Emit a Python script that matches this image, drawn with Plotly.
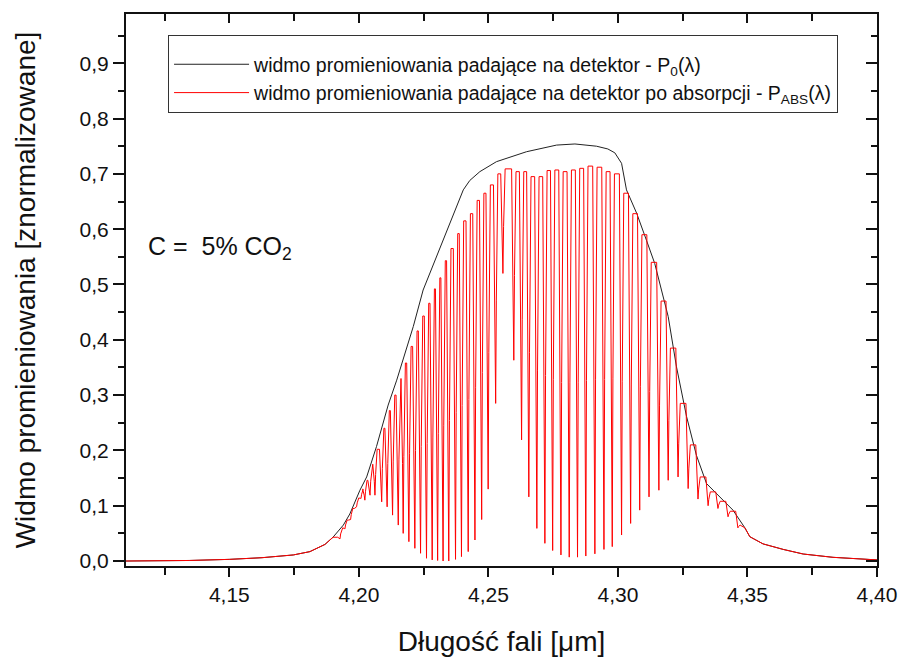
import plotly.graph_objects as go

# ---------------- data ----------------
# Incident spectrum P0(lambda) - black envelope
env_x = [4.1101, 4.1346, 4.1500, 4.1626, 4.1747, 4.1811, 4.1869, 4.1900, 4.1940,
         4.1965, 4.2004, 4.2030, 4.2068, 4.2113, 4.2146, 4.2210, 4.2248, 4.2300,
         4.2351, 4.2403, 4.2428, 4.2467, 4.2531, 4.2647, 4.2763, 4.2834, 4.2917,
         4.2961, 4.2988, 4.3014, 4.3033, 4.3072, 4.3110, 4.3142, 4.3194, 4.3226,
         4.3265, 4.3303, 4.3342, 4.3393, 4.3444, 4.3490, 4.3509, 4.3560, 4.3638,
         4.3715, 4.3830, 4.4000]
env_y = [0.000, 0.001, 0.003, 0.006, 0.011, 0.017, 0.030, 0.043, 0.065,
         0.085, 0.128, 0.152, 0.207, 0.282, 0.327, 0.424, 0.490, 0.550,
         0.611, 0.671, 0.688, 0.704, 0.722, 0.740, 0.752, 0.754, 0.750,
         0.745, 0.738, 0.719, 0.671, 0.629, 0.580, 0.538, 0.442, 0.351,
         0.261, 0.191, 0.140, 0.116, 0.092, 0.060, 0.044, 0.031, 0.021,
         0.0127, 0.0067, 0.002]

# CO2 absorption lines: centre, minimum of the transmitted spectrum
line_x = [4.1927, 4.1946, 4.1968, 4.1991, 4.2008, 4.2023, 4.2043, 4.2062,
          4.2088, 4.2109, 4.2130, 4.2152, 4.2171, 4.2193, 4.2216, 4.2238,
          4.2261, 4.2283, 4.2304, 4.2325, 4.2347, 4.2373, 4.2396, 4.2422,
          4.2448, 4.2474, 4.2499, 4.2528, 4.2556, 4.2598, 4.2628, 4.2656,
          4.2687, 4.2718, 4.2748, 4.2780, 4.2812, 4.2844, 4.2876, 4.2911,
          4.2946, 4.2978, 4.3014, 4.3049, 4.3084, 4.3120, 4.3158, 4.3194,
          4.3232, 4.3271, 4.3309, 4.3348, 4.3386, 4.3425, 4.3463]
line_min = [0.040, 0.058, 0.075, 0.098, 0.113, 0.110, 0.119, 0.119,
            0.107, 0.098, 0.083, 0.065, 0.050, 0.035, 0.023, 0.014,
            0.005, 0.002, 0.001, 0.000, 0.000, 0.003, 0.008, 0.017,
            0.038, 0.075, 0.130, 0.285, 0.520, 0.363, 0.219, 0.116,
            0.059, 0.032, 0.019, 0.011, 0.007, 0.007, 0.009, 0.013,
            0.021, 0.026, 0.047, 0.068, 0.092, 0.116, 0.128, 0.146,
            0.152, 0.131, 0.112, 0.100, 0.095, 0.080, 0.060]
# level of the transmitted spectrum between neighbouring lines (len = lines + 1)
gap_top = [0.043, 0.060, 0.074, 0.095, 0.114, 0.130, 0.146, 0.175, 0.202,
           0.240, 0.272, 0.300, 0.330, 0.358, 0.388, 0.416, 0.443, 0.466,
           0.492, 0.512, 0.543, 0.565, 0.592, 0.615, 0.628, 0.652, 0.665,
           0.680, 0.700, 0.709, 0.704, 0.704, 0.695, 0.695, 0.706, 0.707,
           0.704, 0.707, 0.710, 0.714, 0.712, 0.704, 0.700, 0.665, 0.628,
           0.590, 0.540, 0.470, 0.385, 0.285, 0.210, 0.152, 0.125, 0.108,
           0.090, 0.065]

x_ticks = [4.15, 4.20, 4.25, 4.30, 4.35, 4.40]
x_minor = [4.125, 4.175, 4.225, 4.275, 4.325, 4.375]
y_ticks = [0.0, 0.1, 0.2, 0.3, 0.4, 0.5, 0.6, 0.7, 0.8, 0.9]
y_minor = [0.05, 0.15, 0.25, 0.35, 0.45, 0.55, 0.65, 0.75, 0.85, 0.95]

# ---------------- build transmitted spectrum from the read values ----------------
HW = 0.00085  # half width of a line profile (style)
red_x, red_y = [], []
for xv, yv in zip(env_x, env_y):
    if xv < line_x[0] - HW:
        red_x.append(xv); red_y.append(yv)
for i, (lx, lm) in enumerate(zip(line_x, line_min)):
    lt, rt = gap_top[i], gap_top[i + 1]
    red_x += [lx - HW, lx - 0.3 * HW, lx, lx + 0.3 * HW, lx + HW]
    red_y += [lt, lm + 0.45 * (lt - lm), lm, lm + 0.45 * (rt - lm), rt]
for xv, yv in zip(env_x, env_y):
    if xv > line_x[-1] + HW:
        red_x.append(xv); red_y.append(yv)

FONT = "Liberation Sans, Arial, sans-serif"

fig = go.Figure()
fig.add_trace(go.Scatter(
    x=env_x, y=env_y, mode="lines", line=dict(color="#222222", width=1),
    name="widmo promieniowania padające na detektor - P<sub>0</sub>(λ)"))
fig.add_trace(go.Scatter(
    x=red_x, y=red_y, mode="lines", line=dict(color="#ff0000", width=1),
    name="widmo promieniowania padające na detektor po absorpcji - P<sub>ABS</sub>(λ)"))
# empty helper trace so that the inward ticks on top/right are drawn
fig.add_trace(go.Scatter(x=[], y=[], xaxis="x2", yaxis="y2", showlegend=False,
                         hoverinfo="skip"))

XR = [4.1101, 4.40]
YR = [-0.009, 0.989]

fig.update_layout(
    width=900, height=657,
    margin=dict(l=126, r=23, t=14, b=91),
    paper_bgcolor="white", plot_bgcolor="white",
    separators=", ",
    font=dict(family=FONT, color="#111111"),
    showlegend=True,
    legend=dict(x=0.056, y=0.962, xanchor="left", yanchor="top",
                bordercolor="#333333", borderwidth=1, bgcolor="white",
                itemwidth=75,
                title=dict(text="\u00a0", font=dict(size=7)),
                font=dict(size=19.5, family=FONT, color="#111111")),
    xaxis=dict(range=XR, tickvals=x_ticks, tickformat=".2f", automargin=False,
               ticks="outside", ticklen=9, tickwidth=2, tickcolor="#111",
               showline=True, linewidth=2, linecolor="#111", mirror=True,
               showgrid=False, zeroline=False,
               tickfont=dict(size=21, family=FONT),
               minor=dict(tickvals=x_minor,
                          ticks="outside", ticklen=7, tickwidth=2, tickcolor="#111"),
               title=dict(text="Długość fali [μm]", font=dict(size=28, family=FONT),
                          standoff=26)),
    yaxis=dict(range=YR, tickvals=y_ticks, tickformat=".1f", automargin=False,
               ticks="outside", ticklen=11, tickwidth=2, tickcolor="#111",
               showline=True, linewidth=2, linecolor="#111", mirror=True,
               showgrid=False, zeroline=False,
               tickfont=dict(size=21, family=FONT),
               minor=dict(tickvals=y_minor,
                          ticks="outside", ticklen=6, tickwidth=2, tickcolor="#111"),
               title=dict(text="Widmo promieniowania [znormalizowane]",
                          font=dict(size=28, family=FONT), standoff=36)),
    xaxis2=dict(range=XR, overlaying="x", side="top", anchor="y", automargin=False,
                tickvals=x_ticks, ticks="inside", ticklen=9, tickwidth=2,
                tickcolor="#111", showticklabels=False, showgrid=False,
                zeroline=False, showline=False,
                minor=dict(tickvals=x_minor,
                           ticks="inside", ticklen=7, tickwidth=2, tickcolor="#111")),
    yaxis2=dict(range=YR, overlaying="y", side="right", anchor="x", automargin=False,
                tickvals=y_ticks, ticks="inside", ticklen=11, tickwidth=2,
                tickcolor="#111", showticklabels=False, showgrid=False,
                zeroline=False, showline=False,
                minor=dict(tickvals=y_minor,
                           ticks="inside", ticklen=6, tickwidth=2, tickcolor="#111")),
)

fig.add_annotation(xref="paper", yref="paper", x=0.027, y=0.576,
                   xanchor="left", yanchor="middle", showarrow=False,
                   text="C =\u00a0 5% CO<sub>2</sub>",
                   font=dict(size=25, family=FONT, color="#111111"))

fig.write_html("out.html")
